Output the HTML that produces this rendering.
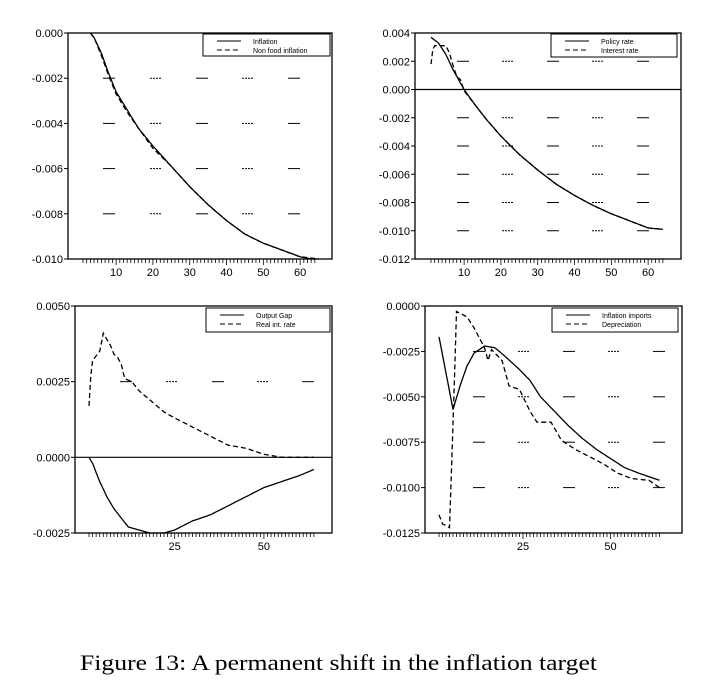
<!DOCTYPE html><html><head><meta charset="utf-8"><style>
body{margin:0;background:#fff;width:710px;height:695px;overflow:hidden}
svg text{font-family:"Liberation Sans",Arial,sans-serif}
</style></head><body>
<svg id="s" width="710" height="695" xmlns="http://www.w3.org/2000/svg">
<text x="80" y="670" textLength="517" lengthAdjust="spacingAndGlyphs" style="font-family:'Liberation Serif',serif;font-size:22px">Figure 13: A permanent shift in the inflation target</text>
</svg>
<script>
var S=document.getElementById('s'),NS='http://www.w3.org/2000/svg';
function el(t,a,txt){var e=document.createElementNS(NS,t);for(var k in a)e.setAttribute(k,a[k]);if(txt)e.textContent=txt;S.appendChild(e);return e;}
function interp(pts,t){for(var i=0;i<pts.length-1;i++){if(t<=pts[i+1][0]){var a=pts[i],b=pts[i+1];return a[1]+(b[1]-a[1])*(t-a[0])/(b[0]-a[0]);}}return pts[pts.length-1][1];}
function panel(p){
 var X=function(t){return p.x1+(t-1)*p.step},Y=function(v){return p.top+(p.ymax-v)/(p.ymax-p.ymin)*(p.bot-p.top)};
 el('rect',{x:p.left,y:p.top,width:p.right-p.left,height:p.bot-p.top,fill:'none',stroke:'#000','stroke-width':1.3});
 for(var i=0;i<p.yt.length;i++){var v=p.yt[i],y=Y(v);
  el('text',{x:p.left-5,y:y+4,'text-anchor':'end','font-size':11},p.yl[i]);
  el('line',{x1:p.left-4,x2:p.left,y1:y,y2:y,stroke:'#000'});
  if(i>0&&i<p.yt.length-1&&Math.abs(v)>1e-9){p.gx.forEach(function(g,j){el('line',{x1:g,x2:g+12,y1:y,y2:y,stroke:'#000','stroke-width':1,'stroke-dasharray':(j%2?'2,1':'none')});});}
 }
 if(p.zero)el('line',{x1:p.left,x2:p.right,y1:Y(0),y2:Y(0),stroke:'#000','stroke-width':1.2});
 for(var t=1;t<=64;t++){var x=X(t),big=p.xl.indexOf(t)>=0;el('line',{x1:x,x2:x,y1:p.bot,y2:p.bot+(big?6:4),stroke:'#000','stroke-width':0.8});if(big)el('text',{x:x,y:p.bot+17,'text-anchor':'middle','font-size':11},''+t);}
 p.series.forEach(function(s){var d='';for(var t=s.pts[0][0];t<=s.pts[s.pts.length-1][0]+1e-9;t+=0.5){d+=(d?'L':'M')+X(t).toFixed(1)+','+Y(interp(s.pts,t)).toFixed(1);}
  el('path',{d:d,fill:'none',stroke:'#000','stroke-width':1.3,'stroke-dasharray':s.dash?'5,3':'none'});});
 var L=p.leg;el('rect',{x:L[0],y:L[1],width:L[2],height:L[3],fill:'#fff',stroke:'#000'});
 p.series.forEach(function(s,i){var y=L[1]+7+i*9;el('line',{x1:L[0]+14,x2:L[0]+38,y1:y,y2:y,stroke:'#000','stroke-dasharray':s.dash?'5,3':'none'});el('text',{x:L[0]+50,y:y+3,'font-size':7},s.name);});
}
panel({left:68,right:332,top:33,bot:259,x1:83,step:3.68,ymax:0,ymin:-0.010,yt:[0,-0.002,-0.004,-0.006,-0.008,-0.010],yl:['0.000','-0.002','-0.004','-0.006','-0.008','-0.010'],gx:[103,150,196,242,288],xl:[10,20,30,40,50,60],leg:[203,34,127,22],
series:[{name:'Inflation',pts:[[3,0],[4,-0.0002],[6,-0.0009],[8,-0.0018],[10,-0.0026],[13,-0.0034],[16,-0.0042],[20,-0.0050],[25,-0.0059],[30,-0.0068],[35,-0.0076],[40,-0.0083],[45,-0.0089],[50,-0.0093],[55,-0.0096],[60,-0.0099],[63,-0.0100],[65,-0.0100]]},
{name:'Non food inflation',dash:1,pts:[[3,0],[4,-0.0002],[6,-0.0010],[8,-0.0019],[10,-0.0027],[13,-0.0035],[16,-0.0042],[20,-0.0051],[25,-0.0059],[30,-0.0068],[35,-0.0076],[40,-0.0083],[45,-0.0089],[50,-0.0093],[55,-0.0096],[60,-0.0099],[65,-0.0100]]}]});
panel({left:415,right:681,top:33,bot:259,x1:431,step:3.68,ymax:0.004,ymin:-0.012,zero:1,yt:[0.004,0.002,0,-0.002,-0.004,-0.006,-0.008,-0.010,-0.012],yl:['0.004','0.002','0.000','-0.002','-0.004','-0.006','-0.008','-0.010','-0.012'],gx:[457,502,547,592,637],xl:[10,20,30,40,50,60],leg:[551,34,126,23],
series:[{name:'Policy rate',pts:[[1,0.0037],[3,0.0033],[5,0.0025],[7,0.0014],[10,0.0000],[13,-0.0011],[16,-0.0021],[20,-0.0033],[25,-0.0046],[30,-0.0057],[35,-0.0067],[40,-0.0075],[45,-0.0082],[50,-0.0088],[55,-0.0093],[60,-0.0098],[64,-0.0099]]},
{name:'Interest rate',dash:1,pts:[[1,0.0018],[1.1,0.0026],[2,0.0031],[5,0.0031],[6,0.0026],[7,0.0017],[8,0.0009],[9,0.0007],[10,-0.0001],[13,-0.0011],[16,-0.0021],[20,-0.0033],[25,-0.0046],[30,-0.0057],[35,-0.0067],[40,-0.0075],[45,-0.0082],[50,-0.0088],[55,-0.0093],[60,-0.0098],[64,-0.0099]]}]});
panel({left:75,right:332,top:306,bot:533,x1:89,step:3.57,ymax:0.005,ymin:-0.0025,zero:1,yt:[0.005,0.0025,0,-0.0025],yl:['0.0050','0.0025','0.0000','-0.0025'],gx:[120,166,212,257,302],xl:[25,50],leg:[206,308,124,24],
series:[{name:'Output Gap',pts:[[1,0],[2,-0.0002],[4,-0.0008],[6,-0.0013],[8,-0.0017],[10,-0.0020],[12,-0.0023],[15,-0.0024],[18,-0.0025],[22,-0.0025],[25,-0.0024],[30,-0.0021],[35,-0.0019],[40,-0.0016],[45,-0.0013],[50,-0.0010],[55,-0.0008],[60,-0.0006],[64,-0.0004]]},
{name:'Real int. rate',dash:1,pts:[[1,0.0017],[1.1,0.0023],[2,0.0032],[4,0.0035],[5,0.0041],[7,0.0037],[8,0.0034],[9,0.0033],[10,0.0031],[11,0.0026],[13,0.0025],[15,0.0022],[18,0.0019],[22,0.0015],[25,0.0013],[30,0.0010],[35,0.0007],[40,0.0004],[45,0.0003],[50,0.0001],[55,0],[64,0]]}]});
panel({left:425,right:682,top:306,bot:533,x1:439,step:3.5,ymax:0,ymin:-0.0125,yt:[0,-0.0025,-0.005,-0.0075,-0.01,-0.0125],yl:['0.0000','-0.0025','-0.0050','-0.0075','-0.0100','-0.0125'],gx:[473,518,563,608,653],xl:[25,50],leg:[552,308,126,24],
series:[{name:'Inflation imports',pts:[[1,-0.0017],[5,-0.0057],[7,-0.0044],[9,-0.0033],[11,-0.0026],[14,-0.0022],[17,-0.0023],[20,-0.0028],[24,-0.0035],[27,-0.0041],[30,-0.0050],[34,-0.0058],[38,-0.0066],[42,-0.0073],[46,-0.0079],[50,-0.0084],[54,-0.0089],[58,-0.0092],[61,-0.0094],[64,-0.0096]]},
{name:'Depreciation',dash:1,pts:[[1,-0.0115],[2,-0.0120],[4,-0.0122],[5,-0.0065],[6,-0.0003],[7,-0.0004],[9,-0.0006],[11,-0.0012],[14,-0.0023],[15,-0.0030],[16,-0.0024],[19,-0.0030],[21,-0.0044],[24,-0.0046],[27,-0.0058],[29,-0.0064],[33,-0.0064],[36,-0.0074],[40,-0.0079],[44,-0.0083],[48,-0.0087],[52,-0.0092],[56,-0.0095],[61,-0.0096],[64,-0.0100]]}]});
</script>
</body></html>
